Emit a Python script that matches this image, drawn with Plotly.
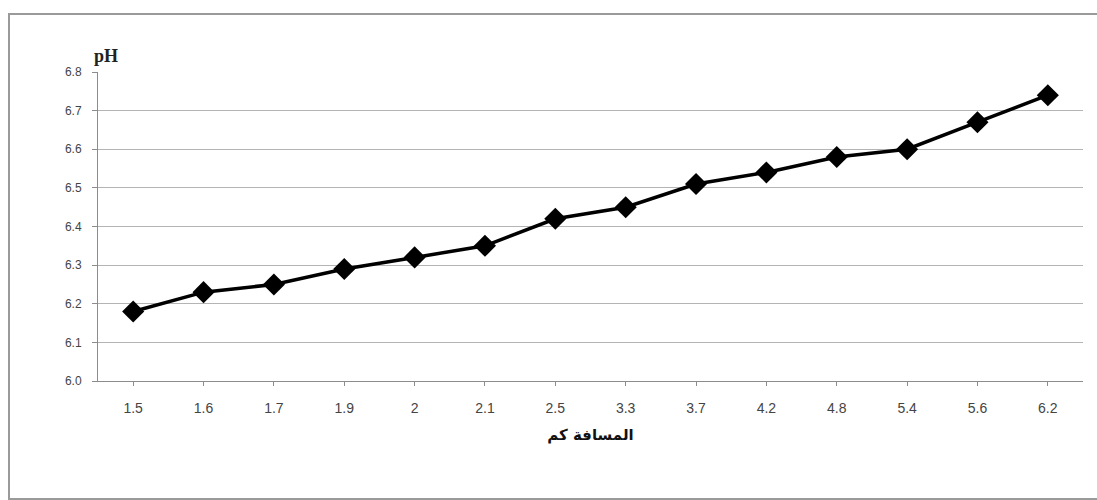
import plotly.graph_objects as go

# Distance (km) along the sampling line and the measured pH
distance_km = ["1.5", "1.6", "1.7", "1.9", "2", "2.1", "2.5", "3.3",
               "3.7", "4.2", "4.8", "5.4", "5.6", "6.2"]
ph_values = [6.18, 6.23, 6.25, 6.29, 6.32, 6.35, 6.42, 6.45,
             6.51, 6.54, 6.58, 6.60, 6.67, 6.74]
y_ticks = [6.0, 6.1, 6.2, 6.3, 6.4, 6.5, 6.6, 6.7, 6.8]

fig = go.Figure()
fig.add_trace(go.Scatter(
    x=distance_km,
    y=ph_values,
    mode="lines+markers",
    line=dict(color="black", width=3.5),
    marker=dict(symbol="diamond", size=17, color="black"),
    showlegend=False,
))

plot_l, plot_r, plot_t, plot_b = 98, 1083, 72, 381
W, H = 1097, 500
pw, ph = plot_r - plot_l, plot_b - plot_t

def px_x(p):
    return (p - plot_l) / pw

def px_y(p):
    return (plot_b - p) / ph

fig.update_layout(
    width=W, height=H,
    margin=dict(l=plot_l, r=W - plot_r, t=plot_t, b=H - plot_b),
    paper_bgcolor="white",
    plot_bgcolor="white",
    xaxis=dict(
        type="category",
        showgrid=False,
        showline=True, linecolor="#8c8c8c", linewidth=1,
        ticks="outside", ticklen=4, tickcolor="#8c8c8c",
        ticklabelstandoff=10,
        tickfont=dict(family="Liberation Sans, Arial", size=14, color="#444"),
        title=dict(text="<b>المسافة كم</b>",
                   font=dict(family="DejaVu Sans", size=15, color="#111"),
                   standoff=14),
        range=[-0.5, len(distance_km) - 0.5],
    ),
    yaxis=dict(
        range=[6.0, 6.8],
        tickvals=y_ticks,
        tickformat=".1f",
        showgrid=True, gridcolor="#b4b4b4", gridwidth=1,
        showline=True, linecolor="#8c8c8c", linewidth=1,
        ticks="outside", ticklen=5, tickcolor="#8c8c8c",
        ticklabelstandoff=8,
        tickfont=dict(family="Liberation Sans, Arial", size=12, color="#444"),
        zeroline=False,
    ),
    shapes=[
        dict(type="rect", xref="paper", yref="paper",
             x0=px_x(9), x1=px_x(1102), y0=px_y(499), y1=px_y(14),
             line=dict(color="#9a9a9a", width=2), fillcolor="rgba(0,0,0,0)",
             layer="below"),
    ],
    annotations=[
        dict(text="<b>pH</b>", xref="paper", yref="paper",
             x=px_x(92), y=px_y(56), xanchor="left", yanchor="middle",
             showarrow=False,
             font=dict(family="Liberation Serif, Times New Roman", size=18,
                       color="#222")),
    ],
)

fig.write_html("out.html")
